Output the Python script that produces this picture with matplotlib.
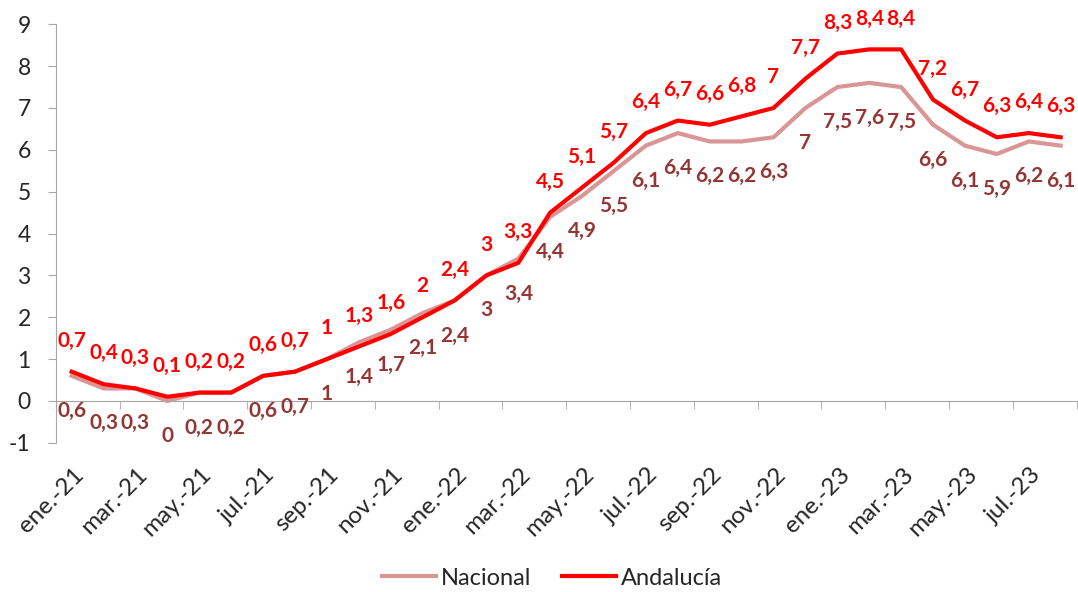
import matplotlib
matplotlib.use("Agg")
import matplotlib.pyplot as plt
import numpy as np

months = ["ene.", "feb.", "mar.", "abr.", "may.", "jun.", "jul.", "ago.", "sep.", "oct.", "nov.", "dic."]
categories = [f"{m}-{y}" for y in ["21", "22"] for m in months] + [f"{m}-23" for m in months[:8]]

nacional = [0.6, 0.3, 0.3, 0.0, 0.2, 0.2, 0.6, 0.7, 1.0, 1.4, 1.7, 2.1, 2.4, 3.0, 3.4, 4.4,
            4.9, 5.5, 6.1, 6.4, 6.2, 6.2, 6.3, 7.0, 7.5, 7.6, 7.5, 6.6, 6.1, 5.9, 6.2, 6.1]
andalucia = [0.7, 0.4, 0.3, 0.1, 0.2, 0.2, 0.6, 0.7, 1.0, 1.3, 1.6, 2.0, 2.4, 3.0, 3.3, 4.5,
             5.1, 5.7, 6.4, 6.7, 6.6, 6.8, 7.0, 7.7, 8.3, 8.4, 8.4, 7.2, 6.7, 6.3, 6.4, 6.3]

yticks = list(range(-1, 10))

c_nac = "#D99694"
c_nac_lbl = "#943634"
c_and = "#FF0000"

plt.rcParams['font.family'] = ['Lato', 'DejaVu Sans']

fig = plt.figure(figsize=(10.78, 5.92), dpi=100)
ax = fig.add_axes([0.0517, 0.252, 0.947, 0.707])

x = np.arange(len(categories))
ax.plot(x, nacional, color=c_nac, lw=3, label="Nacional")
ax.plot(x, andalucia, color=c_and, lw=3, label="Andalucía")

def fmt(v):
    s = f"{v:.1f}".replace(".", ",")
    if s.endswith(",0"):
        s = s[:-2]
    return s

for xi, v in zip(x, andalucia):
    ax.annotate(fmt(v), (xi, v), xytext=(0, 15), textcoords="offset points",
                ha="center", va="bottom", color=c_and, fontsize=15, fontweight="bold")
for xi, v in zip(x, nacional):
    ax.annotate(fmt(v), (xi, v), xytext=(0, -18), textcoords="offset points",
                ha="center", va="top", color=c_nac_lbl, fontsize=15, fontweight="bold")

ax.set_xlim(-0.5, len(categories) - 0.5)
ax.set_ylim(-1, 9)
ax.set_yticks(yticks)
ax.set_yticklabels([str(t) for t in yticks], fontsize=16.5, color="#262626")

ax.spines["top"].set_visible(False)
ax.spines["right"].set_visible(False)
ax.spines["bottom"].set_position(("data", 0))
ax.spines["bottom"].set_color("#A6A6A6")
ax.spines["left"].set_color("#A6A6A6")
ax.tick_params(axis="y", length=6, color="#A6A6A6", pad=12)

# category labels every 2 months, placed at bottom of plot
ax.set_xticks(x[::2])
ax.set_xticklabels([])
ax.tick_params(axis="x", which="major", length=0)
ax.set_xticks(np.arange(1.5, len(categories), 2), minor=True)
ax.tick_params(axis="x", which="minor", length=6, color="#A6A6A6", direction="out")
for xi in x[::2]:
    ax.annotate(categories[xi], (xi, -1), xytext=(1, -15), textcoords="offset points",
                ha="right", va="top", rotation=45, rotation_mode="anchor",
                fontsize=17.5, color="#262626", annotation_clip=False)

leg = fig.legend(loc="lower center", bbox_to_anchor=(0.512, -0.03), ncol=2, frameon=False,
                 fontsize=17, handlelength=2.3, columnspacing=1.3, handletextpad=0.2)
for t in leg.get_texts():
    t.set_color("#262626")

fig.savefig("out.png", dpi=100)
